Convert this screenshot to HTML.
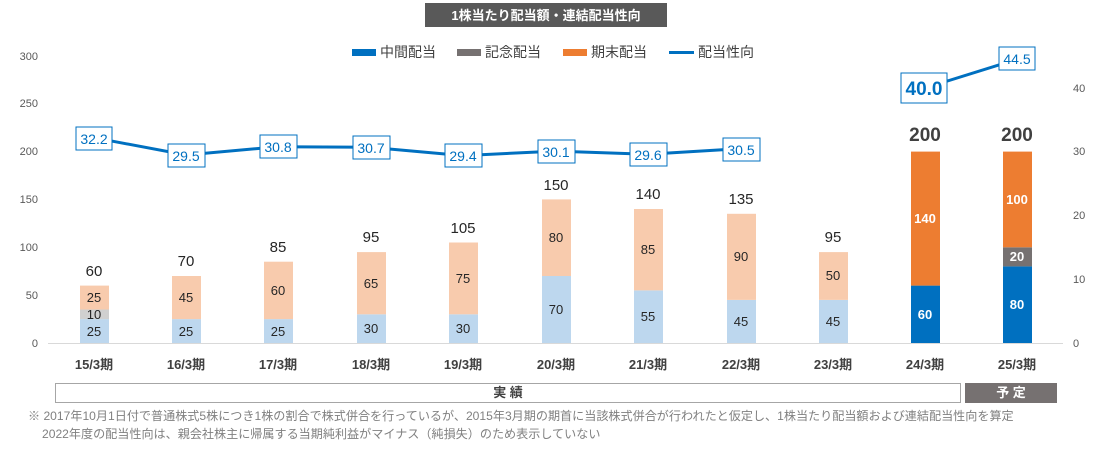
<!DOCTYPE html>
<html><head><meta charset="utf-8"><style>
body{margin:0;background:#fff;}
text{font-family:"Liberation Sans","Noto Sans CJK JP",sans-serif;}
</style></head><body>
<svg width="1103" height="451" xmlns="http://www.w3.org/2000/svg">
<rect x="425" y="3" width="242" height="24" fill="#595959"/>
<text x="546" y="20" fill="#fff" font-size="13" font-weight="bold" text-anchor="middle">1株当たり配当額・連結配当性向</text>
<rect x="352" y="49" width="24" height="7" fill="#0070C0"/><text x="380" y="57" font-size="14" fill="#404040">中間配当</text>
<rect x="457" y="49" width="24" height="7" fill="#767171"/><text x="485" y="57" font-size="14" fill="#404040">記念配当</text>
<rect x="563" y="49" width="24" height="7" fill="#ED7D31"/><text x="591" y="57" font-size="14" fill="#404040">期末配当</text>
<line x1="669" y1="52.5" x2="694" y2="52.5" stroke="#0070C0" stroke-width="3"/><text x="698" y="57" font-size="14" fill="#404040">配当性向</text>
<g font-size="11" fill="#595959" text-anchor="end">
<text x="38" y="60">300</text><text x="38" y="107">250</text><text x="38" y="155">200</text><text x="38" y="203">150</text><text x="38" y="251">100</text><text x="38" y="299">50</text><text x="38" y="347">0</text>
</g>
<g font-size="11" fill="#595959" text-anchor="start">
<text x="1073" y="92">40</text><text x="1073" y="155">30</text><text x="1073" y="219">20</text><text x="1073" y="283">10</text><text x="1073" y="347">0</text>
</g>
<line x1="48" y1="343.5" x2="1063" y2="343.5" stroke="#D9D9D9" stroke-width="1"/>
<g>
<rect x="80" y="319.1" width="29" height="23.9" fill="#BDD7EE"/><rect x="80" y="309.5" width="29" height="9.6" fill="#D0D0D0"/><rect x="80" y="285.6" width="29" height="23.9" fill="#F8CBAD"/>
<rect x="172" y="319.1" width="29" height="23.9" fill="#BDD7EE"/><rect x="172" y="276" width="29" height="43.1" fill="#F8CBAD"/>
<rect x="264" y="319.1" width="29" height="23.9" fill="#BDD7EE"/><rect x="264" y="261.7" width="29" height="57.4" fill="#F8CBAD"/>
<rect x="357" y="314.3" width="29" height="28.7" fill="#BDD7EE"/><rect x="357" y="252.1" width="29" height="62.2" fill="#F8CBAD"/>
<rect x="449" y="314.3" width="29" height="28.7" fill="#BDD7EE"/><rect x="449" y="242.5" width="29" height="71.8" fill="#F8CBAD"/>
<rect x="542" y="276" width="29" height="67" fill="#BDD7EE"/><rect x="542" y="199.4" width="29" height="76.6" fill="#F8CBAD"/>
<rect x="634" y="290.4" width="29" height="52.6" fill="#BDD7EE"/><rect x="634" y="209" width="29" height="81.4" fill="#F8CBAD"/>
<rect x="727" y="299.9" width="29" height="43.1" fill="#BDD7EE"/><rect x="727" y="213.8" width="29" height="86.1" fill="#F8CBAD"/>
<rect x="819" y="299.9" width="29" height="43.1" fill="#BDD7EE"/><rect x="819" y="252.1" width="29" height="47.8" fill="#F8CBAD"/>
<rect x="911" y="285.6" width="29" height="57.4" fill="#0070C0"/><rect x="911" y="151.6" width="29" height="134" fill="#ED7D31"/>
<rect x="1003" y="266.4" width="29" height="76.6" fill="#0070C0"/><rect x="1003" y="247.3" width="29" height="19.1" fill="#767171"/><rect x="1003" y="151.6" width="29" height="95.7" fill="#ED7D31"/>
</g>
<g font-size="13" fill="#262626" text-anchor="middle">
<text x="94" y="336">25</text><text x="94" y="319">10</text><text x="94" y="302">25</text>
<text x="186" y="336">25</text><text x="186" y="302">45</text>
<text x="278" y="336">25</text><text x="278" y="295">60</text>
<text x="371" y="333">30</text><text x="371" y="288">65</text>
<text x="463" y="333">30</text><text x="463" y="283">75</text>
<text x="556" y="314">70</text><text x="556" y="242">80</text>
<text x="648" y="321">55</text><text x="648" y="254">85</text>
<text x="741" y="326">45</text><text x="741" y="261">90</text>
<text x="833" y="326">45</text><text x="833" y="280">50</text>
</g>
<g font-size="13" fill="#fff" font-weight="bold" text-anchor="middle">
<text x="925" y="319">60</text><text x="925" y="223">140</text>
<text x="1017" y="309">80</text><text x="1017" y="261">20</text><text x="1017" y="204">100</text>
</g>
<g font-size="15" fill="#262626" text-anchor="middle">
<text x="94" y="276">60</text><text x="186" y="266">70</text><text x="278" y="252">85</text><text x="371" y="242">95</text><text x="463" y="233">105</text><text x="556" y="190">150</text><text x="648" y="199">140</text><text x="741" y="204">135</text><text x="833" y="242">95</text>
</g>
<g font-size="19" fill="#404040" font-weight="bold" text-anchor="middle">
<text x="925" y="141">200</text><text x="1017" y="141">200</text>
</g>
<polyline points="94,137.7 186,155 278,146.7 371,147.3 463,155.6 556,151.1 648,154.3 741,148.6" fill="none" stroke="#0070C0" stroke-width="3"/>
<line x1="925" y1="88" x2="1017" y2="59.3" stroke="#0070C0" stroke-width="3"/>
<g font-size="14" fill="#0070C0" text-anchor="middle">
<rect x="76" y="127" width="36" height="23" fill="#fff" stroke="#0070C0"/><text x="94" y="144">32.2</text>
<rect x="168" y="144" width="37" height="23" fill="#fff" stroke="#0070C0"/><text x="186" y="161">29.5</text>
<rect x="260" y="135" width="37" height="23" fill="#fff" stroke="#0070C0"/><text x="278" y="152">30.8</text>
<rect x="353" y="136" width="37" height="23" fill="#fff" stroke="#0070C0"/><text x="371" y="153">30.7</text>
<rect x="445" y="144" width="37" height="23" fill="#fff" stroke="#0070C0"/><text x="463" y="161">29.4</text>
<rect x="538" y="140" width="37" height="23" fill="#fff" stroke="#0070C0"/><text x="556" y="157">30.1</text>
<rect x="630" y="143" width="37" height="23" fill="#fff" stroke="#0070C0"/><text x="648" y="160">29.6</text>
<rect x="723" y="138" width="37" height="23" fill="#fff" stroke="#0070C0"/><text x="741" y="155">30.5</text>
<rect x="999" y="47" width="36" height="23" fill="#fff" stroke="#0070C0"/><text x="1017" y="64">44.5</text>
<rect x="901" y="73" width="46" height="30" fill="#fff" stroke="#0070C0"/><text x="924" y="95" font-size="19" font-weight="bold">40.0</text>
</g>
<g font-size="13" fill="#404040" font-weight="bold" text-anchor="middle">
<text x="94" y="369">15/3期</text><text x="186" y="369">16/3期</text><text x="278" y="369">17/3期</text><text x="371" y="369">18/3期</text><text x="463" y="369">19/3期</text><text x="556" y="369">20/3期</text><text x="648" y="369">21/3期</text><text x="741" y="369">22/3期</text><text x="833" y="369">23/3期</text><text x="925" y="369">24/3期</text><text x="1017" y="369">25/3期</text>
</g>
<rect x="55.5" y="383.5" width="905" height="19" fill="#fff" stroke="#A6A6A6"/>
<text x="508" y="397" font-size="13" font-weight="bold" fill="#404040" text-anchor="middle">実 績</text>
<rect x="965" y="383" width="92" height="20" fill="#767171"/>
<text x="1011" y="397" font-size="13" font-weight="bold" fill="#fff" text-anchor="middle">予 定</text>
<g font-size="12.1" fill="#808080">
<text x="28" y="420">※ 2017年10月1日付で普通株式5株につき1株の割合で株式併合を行っているが、2015年3月期の期首に当該株式併合が行われたと仮定し、1株当たり配当額および連結配当性向を算定</text>
<text x="42" y="438">2022年度の配当性向は、親会社株主に帰属する当期純利益がマイナス（純損失）のため表示していない</text>
</g>
</svg>
</body></html>
